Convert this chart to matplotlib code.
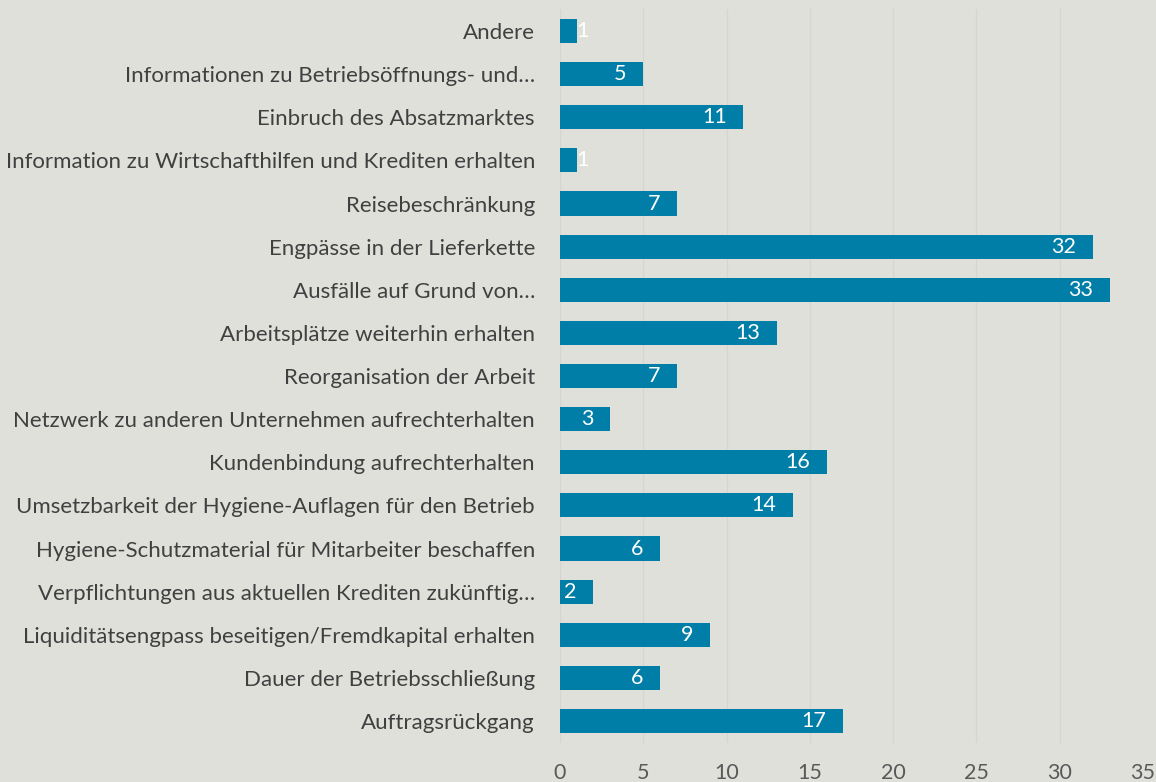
import matplotlib.pyplot as plt

plt.rcParams['font.family'] = ['Lato', 'DejaVu Sans']

# categories from top to bottom
labels = [
    "Andere",
    "Informationen zu Betriebsöffnungs- und…",
    "Einbruch des Absatzmarktes",
    "Information zu Wirtschafthilfen und Krediten erhalten",
    "Reisebeschränkung",
    "Engpässe in der Lieferkette",
    "Ausfälle auf Grund von…",
    "Arbeitsplätze weiterhin erhalten",
    "Reorganisation der Arbeit",
    "Netzwerk zu anderen Unternehmen aufrechterhalten",
    "Kundenbindung aufrechterhalten",
    "Umsetzbarkeit der Hygiene-Auflagen für den Betrieb",
    "Hygiene-Schutzmaterial für Mitarbeiter beschaffen",
    "Verpflichtungen aus aktuellen Krediten zukünftig…",
    "Liquiditätsengpass beseitigen/Fremdkapital erhalten",
    "Dauer der Betriebsschließung",
    "Auftragsrückgang",
]
values = [1, 5, 11, 1, 7, 32, 33, 13, 7, 3, 16, 14, 6, 2, 9, 6, 17]
xticks = [0, 5, 10, 15, 20, 25, 30, 35]

bg = "#e0e0db"
bar_color = "#007ea7"

fig = plt.figure(figsize=(11.56, 7.82), dpi=100, facecolor=bg)
ax = fig.add_axes([0.4844, 0.0504, 0.5044, 0.9375], facecolor=bg)

pos = list(range(len(labels)))
ax.barh(pos, values, height=0.56, color=bar_color, zorder=3)
ax.set_ylim(len(labels) - 0.5, -0.5)
ax.set_xlim(0, 35)
ax.set_xticks(xticks)
ax.set_yticks(pos)
ax.set_yticklabels(labels, fontsize=16, color="#404040")
ax.tick_params(axis='x', labelsize=15.5, labelcolor="#595959", length=0, pad=15)
ax.tick_params(axis='y', length=0, pad=18)
ax.grid(axis='x', color="#d6d6d1", linewidth=1, zorder=0)
for s in ax.spines.values():
    s.set_visible(False)

# value labels inside the bar end
for p, v in zip(pos, values):
    if v < 2:
        ax.annotate(str(v), (v, p), xytext=(0, 0), textcoords='offset points',
                    ha='left', va='center', color='white', fontsize=15.5, zorder=4)
    else:
        ax.annotate(str(v), (v, p), xytext=(-12, 0), textcoords='offset points',
                    ha='right', va='center', color='white', fontsize=15.5, zorder=4)

fig.savefig("out.png", dpi=100, facecolor=bg)
